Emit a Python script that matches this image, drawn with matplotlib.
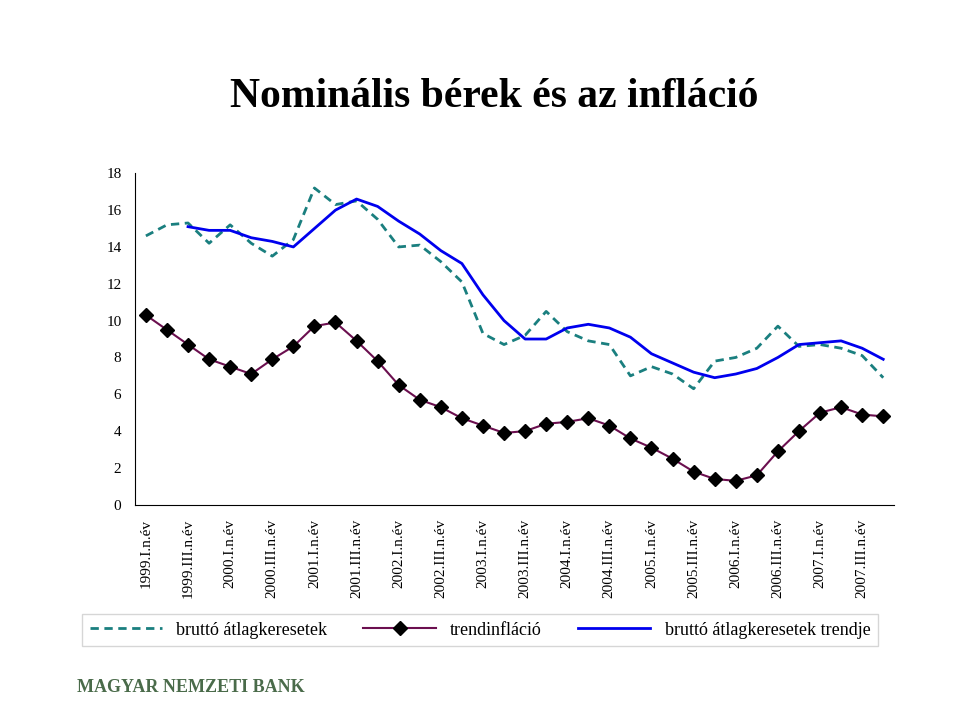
import numpy as np
import matplotlib.pyplot as plt

plt.rcParams['font.family'] = 'Liberation Serif'

quarters = [f"{y}.{q}.n.év" for y in range(1999, 2008) for q in ["I", "II", "III", "IV"]]

brutto = [14.6, 15.2, 15.3, 14.2, 15.2, 14.2, 13.5, 14.4, 17.2, 16.3, 16.5, 15.5,
          14.0, 14.1, 13.2, 12.1, 9.3, 8.7, 9.2, 10.5, 9.4, 8.9, 8.7, 7.0,
          7.5, 7.1, 6.3, 7.8, 8.0, 8.5, 9.7, 8.6, 8.7, 8.5, 8.1, 6.9]

trendinfl = [10.3, 9.5, 8.7, 7.9, 7.5, 7.1, 7.9, 8.6, 9.7, 9.9, 8.9, 7.8,
             6.5, 5.7, 5.3, 4.7, 4.3, 3.9, 4.0, 4.4, 4.5, 4.7, 4.3, 3.6,
             3.1, 2.5, 1.8, 1.4, 1.3, 1.6, 2.9, 4.0, 5.0, 5.3, 4.9, 4.8]

brutto_trend = [None, None, 15.1, 14.9, 14.9, 14.5, 14.3, 14.0, 15.0, 16.0, 16.6, 16.2,
                15.4, 14.7, 13.8, 13.1, 11.4, 10.0, 9.0, 9.0, 9.6, 9.8, 9.6, 9.1,
                8.2, 7.7, 7.2, 6.9, 7.1, 7.4, 8.0, 8.7, 8.8, 8.9, 8.5, 7.9]

fig = plt.figure(figsize=(9.6, 7.16), dpi=100)
ax = fig.add_axes([0.141, 0.295, 0.79, 0.463])

x = np.arange(len(quarters))
bt = np.array([np.nan if v is None else v for v in brutto_trend])

ax.plot(x, brutto, color='#1a7f7f', lw=2, ls=(0, (3, 2)), label='bruttó átlagkeresetek')
ax.plot(x, trendinfl, color='#6b0f4f', lw=1.5, marker='D', mfc='black', mec='black',
        ms=7, label='trendinfláció')
ax.plot(x, bt, color='#0000ee', lw=2, label='bruttó átlagkeresetek trendje')

ax.set_ylim(0, 18)
ax.set_yticks(range(0, 19, 2))
ax.set_xlim(-0.5, len(quarters) - 0.5)
ax.set_xticks(x[::2])
ax.set_xticklabels(quarters[::2], rotation=90, fontsize=11)
ax.tick_params(axis='y', labelsize=11, length=0, pad=10)
ax.tick_params(axis='x', length=0, pad=10)
for s in ['top', 'right']:
    ax.spines[s].set_visible(False)

fig.text(0.515, 0.865, 'Nominális bérek és az infláció', ha='center', va='center',
         fontsize=30, fontweight='bold')

fig.legend(loc='center', bbox_to_anchor=(0.5, 0.12), ncol=3, fontsize=13,
           frameon=True, fancybox=False, edgecolor='#cccccc', handlelength=4,
           columnspacing=2)

fig.text(0.08, 0.04, 'MAGYAR NEMZETI BANK', fontsize=13, fontweight='bold',
         color='#4a6b4a', va='center')

fig.savefig('out.png', dpi=100)
